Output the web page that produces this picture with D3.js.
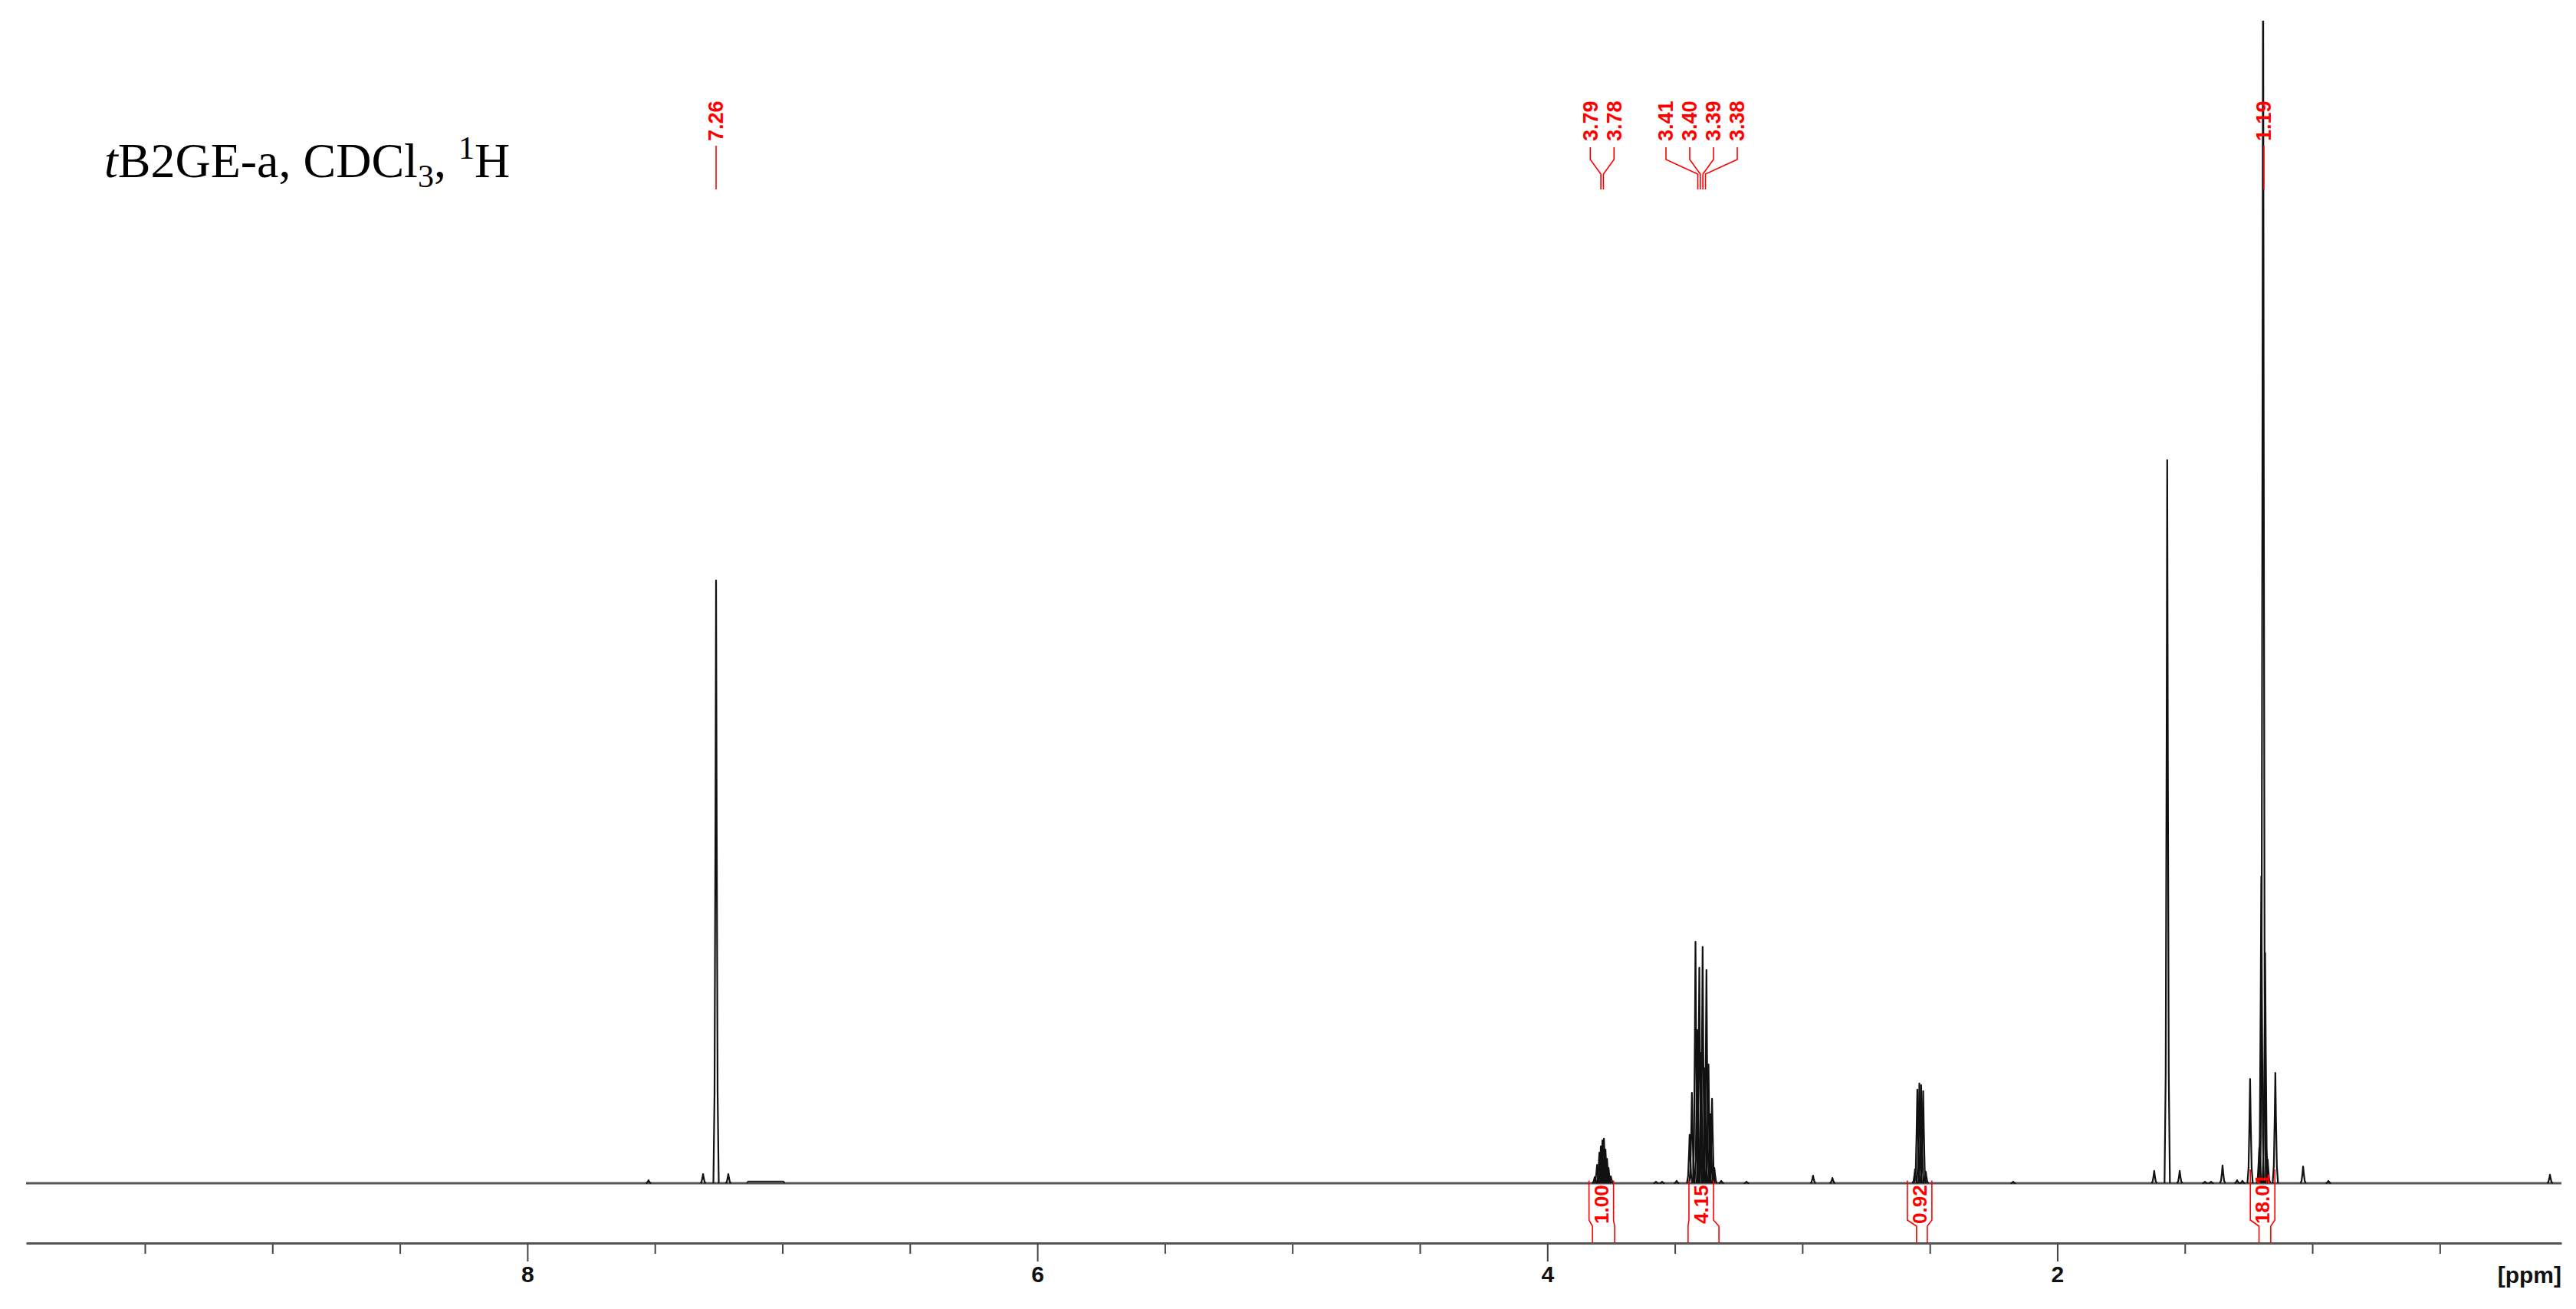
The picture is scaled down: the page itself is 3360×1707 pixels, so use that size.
<!DOCTYPE html>
<html>
<head>
<meta charset="utf-8">
<script src="https://cdn.jsdelivr.net/npm/d3@7"></script>
<style>
    body { margin: 0; background: #fff; }
    #chart svg { display: block; }
</style>
</head>
<body>
<div id="chart"></div>
<script>
// Spectrum data: chemical shift (ppm) and intensity (% of plot height)
const peakShifts = [
    7.525, 7.311, 7.260, 7.212,
    3.814, 3.805, 3.796, 3.790, 3.784, 3.778, 3.772, 3.766, 3.760, 3.751,
    3.574, 3.550, 3.493,
    3.442, 3.433, 3.419, 3.412, 3.404, 3.397, 3.391, 3.382, 3.376, 3.368, 3.360, 3.354, 3.345,
    3.318, 3.219, 2.958, 2.882,
    2.558, 2.549, 2.541, 2.534, 2.526, 2.516,
    2.173,
    1.620, 1.569, 1.520, 1.421, 1.397, 1.352, 1.295, 1.274,
    1.244, 1.208, 1.200, 1.193, 1.185, 1.175, 1.145, 1.036, 0.937, 0.068
]
const peakIntensities = [
    0.26, 0.79, 51.85, 0.79,
    0.53, 1.58, 2.64, 3.17, 3.69, 3.83, 2.90, 2.11, 1.32, 0.59,
    0.13, 0.13, 0.20,
    4.16, 7.78, 20.78, 13.19, 18.54, 11.21, 20.32, 9.89, 18.34, 10.22, 5.94, 7.26, 1.32,
    0.20, 0.13, 0.66, 0.46,
    1.19, 8.05, 8.58, 8.44, 7.92, 0.99,
    0.13,
    1.06, 62.2, 1.06, 0.13, 0.13, 1.52, 0.26, 0.20,
    8.97, 3.03, 26.4, 110, 19.8, 2.04, 9.50, 1.45, 0.20, 0.73
]
// broad low humps: [from ppm, to ppm, intensity]
const humps = [[7.14, 6.99, 0.15]]

// Peak pick labels, grouped as they are fanned out
const peakLabelGroups = [["7.26"], ["3.79", "3.78"], ["3.41", "3.40", "3.39", "3.38"], ["1.19"]]

// Integrals
const integralRanges = [[3.823, 3.736], [3.448, 3.327], [2.552, 2.510], [1.209, 1.163]]
const integralValues = ["1.00", "4.15", "0.92", "18.01"]

// Axis
const ppmRange = [9.966, 0.023]
const majorTicks = [8, 6, 4, 2]
const minorTicks = [9.5, 9, 8.5, 7.5, 7, 6.5, 5.5, 5, 4.5, 3.5, 3, 2.5, 1.5, 1, 0.5]
const axisTitle = "[ppm]"

function drawSpectrum() {

    const dimensions = {
        width: 3360,
        height: 1707,
        plotLeft: 34,
        plotRight: 3341,
        plotTop: 27,
        baseline: 1543,
        axisY: 1621
    }

    const wrapper = d3.select("#chart").append("svg")
        .attr("width", dimensions.width)
        .attr("height", dimensions.height)
        .style("background", "#fff")

    // Create scales
    const xScale = d3.scaleLinear()
        .domain(ppmRange)
        .range([dimensions.plotLeft, dimensions.plotRight])

    const yScale = d3.scaleLinear()
        .domain([0, 100])
        .range([dimensions.baseline, dimensions.plotTop])

    // Clip the off-scale peak at the top of the plot
    wrapper.append("clipPath")
        .attr("id", "plot-clip")
        .append("rect")
        .attr("x", 0)
        .attr("y", dimensions.plotTop)
        .attr("width", dimensions.width)
        .attr("height", dimensions.height - dimensions.plotTop)

    const spectrum = wrapper.append("g")
        .attr("clip-path", "url(#plot-clip)")

    // Baseline
    spectrum.append("line")
        .attr("x1", xScale(ppmRange[0]))
        .attr("x2", xScale(ppmRange[1]))
        .attr("y1", yScale(0))
        .attr("y2", yScale(0))
        .attr("stroke", "#555")
        .attr("stroke-width", 3)

    // Humps
    spectrum.selectAll(".hump")
        .data(humps)
        .enter().append("path")
        .attr("class", "hump")
        .attr("fill", "none")
        .attr("stroke", "#222")
        .attr("stroke-width", 2)
        .attr("d", d => {
            const x1 = xScale(d[0]), x2 = xScale(d[1])
            return `M${x1},${yScale(0)}L${x1 + 2},${yScale(d[2])}L${x2 - 2},${yScale(d[2])}L${x2},${yScale(0)}`
        })

    // Peaks
    const peaks = peakShifts.map((p, i) => ({ ppm: p, h: peakIntensities[i] }))

    spectrum.selectAll(".peak")
        .data(peaks)
        .enter().append("path")
        .attr("class", "peak")
        .attr("fill", "none")
        .attr("stroke", "#111")
        .attr("stroke-width", 2.2)
        .attr("stroke-linejoin", "round")
        .attr("d", d => {
            const x = xScale(d.ppm)
            const y0 = yScale(0)
            return `M${x - 3.5},${y0}` +
                `L${x - 2},${yScale(d.h * 0.15)}` +
                `L${x - 0.8},${yScale(d.h * 0.6)}` +
                `L${x},${yScale(d.h)}` +
                `L${x + 0.8},${yScale(d.h * 0.6)}` +
                `L${x + 2},${yScale(d.h * 0.15)}` +
                `L${x + 3.5},${y0}`
        })

    // Peak labels
    const red = "#ff0000"
    const labelFont = "'Liberation Sans', Arial, sans-serif"
    const labels = wrapper.append("g")

    peakLabelGroups.forEach(group => {
        const px = group.map(v => xScale(+v))
        const center = d3.mean(px)
        const n = group.length
        group.forEach((v, i) => {
            const lx = n === 1 ? px[i] : center + (i - (n - 1) / 2) * 31
            labels.append("text")
                .attr("transform", `translate(${lx},184) rotate(-90)`)
                .attr("dy", "0.35em")
                .attr("fill", red)
                .attr("font-family", labelFont)
                .attr("font-weight", "bold")
                .attr("font-size", "27px")
                .text(v)

            const d = n === 1
                ? `M${px[i]},190V247`
                : `M${lx},192V208L${px[i]},227V247`
            labels.append("path")
                .attr("d", d)
                .attr("fill", "none")
                .attr("stroke", red)
                .attr("stroke-width", 1.6)
        })
    })

    // Integrals
    const integrals = wrapper.append("g")

    integralRanges.forEach((r, i) => {
        const lx1 = xScale(r[0])
        const lx2 = xScale(r[1])
        const c = (lx1 + lx2) / 2 - 3
        const bx1 = c - 16
        const bx2 = c + 16

        const label = integrals.append("text")
            .attr("transform", `translate(${c},1596) rotate(-90)`)
            .attr("dy", "0.35em")
            .attr("fill", red)
            .attr("font-family", labelFont)
            .attr("font-weight", "bold")
            .attr("font-size", "26px")
            .text(integralValues[i])

        const top = 1596 - label.node().getComputedTextLength() - 6

        integrals.append("path")
            .attr("d", `M${bx1},${top}V1591L${lx1},1599V${dimensions.axisY}`)
            .attr("fill", "none")
            .attr("stroke", red)
            .attr("stroke-width", 1.6)
        integrals.append("path")
            .attr("d", `M${bx2},${top}V1591L${lx2},1599V${dimensions.axisY}`)
            .attr("fill", "none")
            .attr("stroke", red)
            .attr("stroke-width", 1.6)
    })

    // Create axes
    const minorAxisGenerator = d3.axisBottom(xScale)
        .tickValues(minorTicks)
        .tickSize(14)
        .tickSizeOuter(0)
        .tickFormat("")

    const majorAxisGenerator = d3.axisBottom(xScale)
        .tickValues(majorTicks)
        .tickSize(24)
        .tickSizeOuter(0)
        .tickFormat(d3.format("d"))

    const minorAxis = wrapper.append("g")
        .attr("transform", `translate(0,${dimensions.axisY})`)
        .call(minorAxisGenerator)

    const majorAxis = wrapper.append("g")
        .attr("transform", `translate(0,${dimensions.axisY})`)
        .call(majorAxisGenerator)

    minorAxis.select(".domain").remove()
    majorAxis.select(".domain")
        .attr("stroke", "#555")
        .attr("stroke-width", 3)

    wrapper.selectAll(".tick line")
        .attr("stroke", "#444")
        .attr("stroke-width", 2)

    majorAxis.selectAll(".tick text")
        .attr("y", 51)
        .attr("dy", 0)
        .attr("fill", "#111")
        .attr("font-family", labelFont)
        .attr("font-weight", "bold")
        .attr("font-size", "30px")

    wrapper.append("text")
        .attr("x", dimensions.plotRight)
        .attr("y", 1673)
        .attr("text-anchor", "end")
        .attr("fill", "#111")
        .attr("font-family", labelFont)
        .attr("font-weight", "bold")
        .attr("font-size", "30px")
        .text(axisTitle)

    // Title
    const title = wrapper.append("text")
        .attr("x", 136)
        .attr("y", 231)
        .attr("fill", "#000")
        .attr("font-family", "'Liberation Serif', 'Times New Roman', serif")
        .attr("font-size", "64px")

    title.append("tspan").attr("font-style", "italic").text("t")
    title.append("tspan").text("B2GE-a, CDCl")
    title.append("tspan").attr("font-size", "42px").attr("dy", 13).text("3")
    title.append("tspan").attr("dy", -13).text(", ")
    title.append("tspan").attr("font-size", "42px").attr("dy", -24).text("1")
    title.append("tspan").attr("dy", 24).text("H")
}

drawSpectrum()
</script>
</body>
</html>
